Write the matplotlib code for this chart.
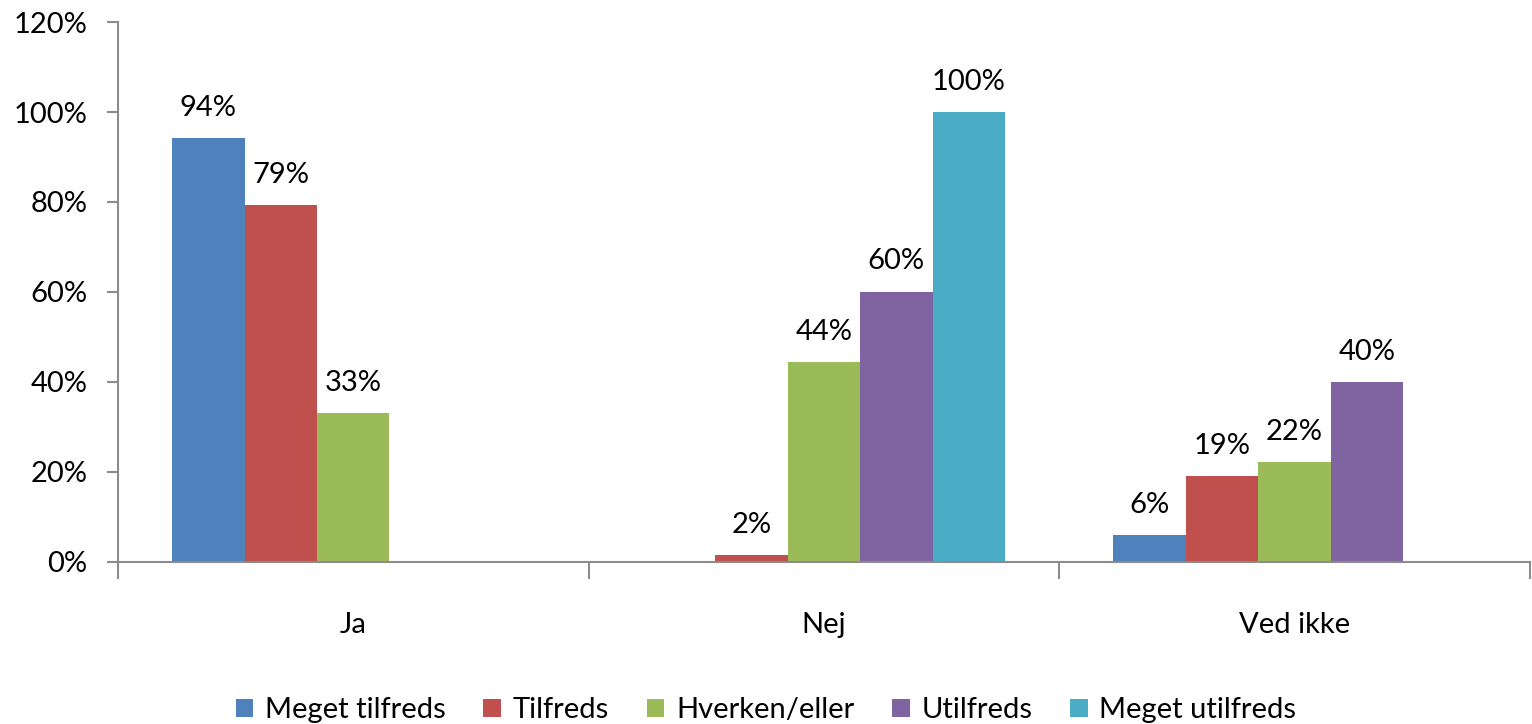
import numpy as np
import matplotlib.pyplot as plt
from matplotlib.ticker import FuncFormatter

plt.rcParams["font.family"] = ["Lato", "DejaVu Sans"]
plt.rcParams["font.size"] = 21

# Data
categories = ["Ja", "Nej", "Ved ikke"]
series = ["Meget tilfreds", "Tilfreds", "Hverken/eller", "Utilfreds", "Meget utilfreds"]
meget_tilfreds = [94.3, 0, 6.0]
tilfreds = [79.4, 1.6, 19.0]
hverken = [33.0, 44.4, 22.3]
utilfreds = [0, 60.1, 40.0]
meget_utilfreds = [0, 100.0, 0]
colors = ["#4f81bd", "#c0504d", "#9bbb59", "#8064a2", "#4bacc6"]

values = [meget_tilfreds, tilfreds, hverken, utilfreds, meget_utilfreds]

fig = plt.figure(figsize=(15.32, 7.24), dpi=100)
ax = fig.add_axes([0.077, 0.2238, 0.9215, 0.7458])

x = np.arange(len(categories))
w = 0.154
axis_col = "#8c8c8c"

for i, (name, vals) in enumerate(zip(series, values)):
    pos = x + (i - 2) * w
    ax.bar(pos, vals, width=w, color=colors[i], label=name, linewidth=0)
    for p, v in zip(pos, vals):
        if v > 0:
            ax.text(p, v + 3.8, f"{v:.0f}%", ha="center", va="bottom", fontsize=21)

ax.set_xlim(-0.5, 2.5)
ax.set_ylim(0, 120)
ax.set_yticks(range(0, 121, 20))
ax.yaxis.set_major_formatter(FuncFormatter(lambda v, p: f"{v:.0f}%"))

ax.set_xticks(x)
ax.set_xticklabels(categories)
ax.set_xticks([-0.5, 0.5, 1.5, 2.5], minor=True)
ax.tick_params(axis="x", which="major", length=0, pad=36)
ax.tick_params(axis="x", which="minor", length=12, width=1.5, color=axis_col)
ax.tick_params(axis="y", length=8, width=1.5, color=axis_col, pad=14)

for s in ["top", "right"]:
    ax.spines[s].set_visible(False)
for s in ["left", "bottom"]:
    ax.spines[s].set_color(axis_col)
    ax.spines[s].set_linewidth(1.5)

fig.legend(loc="lower center", bbox_to_anchor=(0.5, -0.035), ncol=5, frameon=False,
           handlelength=0.6, handleheight=0.6, handletextpad=0.4, columnspacing=1.3,
           fontsize=21)

fig.savefig("out.png", dpi=100)
